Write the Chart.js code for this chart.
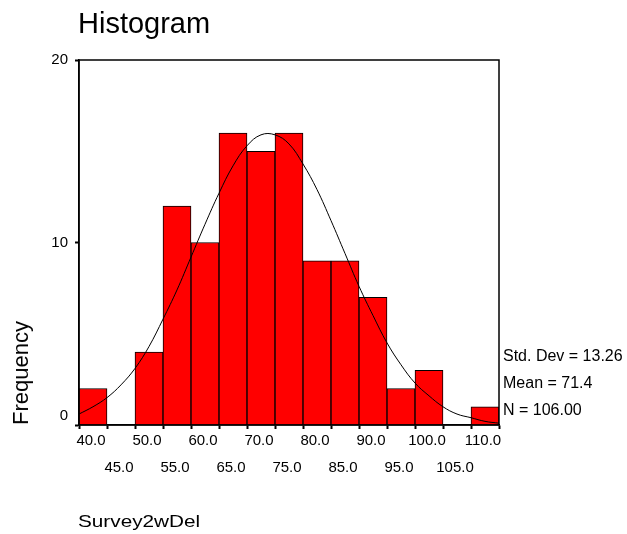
<!DOCTYPE html>
<html>
<head>
<meta charset="utf-8">
<script src="https://cdn.jsdelivr.net/npm/chart.js@4/dist/chart.umd.min.js"></script>
<style>
body { margin: 0; background: #fff; }
#wrap { position: relative; width: 627px; height: 534px; font-family: Arial, "Liberation Sans", sans-serif; color: #000; }
#c { position: absolute; left: 0; top: 0; }
.txt { position: absolute; white-space: nowrap; line-height: 1; }
#title { left: 78px; top: 9px; font-size: 29px; }
#ylab { left: 21px; top: 373px; font-size: 22px; transform: translate(-50%, -50%) rotate(-90deg); }
#xlab { left: 78px; top: 513px; font-size: 17px; transform: scaleX(1.22); transform-origin: left top; }
.stat { left: 503px; font-size: 16px; }
</style>
</head>
<body>
<div id="wrap">
<canvas id="c" width="627" height="534"></canvas>
<div class="txt" id="title">Histogram</div>
<div class="txt" id="ylab">Frequency</div>
<div class="txt" id="xlab">Survey2wDel</div>
<div class="txt stat" style="top:348px">Std. Dev = 13.26</div>
<div class="txt stat" style="top:375px">Mean = 71.4</div>
<div class="txt stat" style="top:402px">N = 106.00</div>
</div>
<script>
// bins (centres) and counts
const bins = ["40.0","45.0","50.0","55.0","60.0","65.0","70.0","75.0","80.0","85.0","90.0","95.0","100.0","105.0","110.0"];
const counts = [2,0,4,12,10,16,15,16,9,9,7,2,3,0,1];

// normal curve
const curveX = [37.5,40,42.5,45,47.5,50,52.5,55,57.5,60,62.5,65,67.5,70,72.5,75,77.5,80,82.5,85,87.5,90,92.5,95,97.5,100,102.5,105,107.5,110,112.5];
const curveY = [0.6,1.0,1.5,2.2,3.1,4.3,5.8,7.4,9.2,11.0,12.7,14.2,15.3,15.9,15.9,15.4,14.3,12.9,11.2,9.4,7.6,6.0,4.5,3.3,2.3,1.6,1.0,0.6,0.4,0.2,0.1];

const yTicks = [0,10,20];

const boxPlugin = {
  id: 'box',
  afterDraw(chart) {
    const a = chart.chartArea;
    const ctx = chart.ctx;
    ctx.save();
    ctx.strokeStyle = '#000';
    ctx.lineWidth = 1.5;
    ctx.strokeRect(a.left, a.top, a.right - a.left, a.bottom - a.top);
    ctx.restore();
  }
};

new Chart(document.getElementById('c'), {
  data: {
    labels: bins,
    datasets: [
      {
        type: 'line',
        data: curveX.map((x, i) => ({x: x, y: curveY[i]})),
        xAxisID: 'xl',
        borderColor: '#000',
        borderWidth: 1,
        pointRadius: 0,
        tension: 0.4,
        order: 0
      },
      {
        type: 'bar',
        data: counts,
        xAxisID: 'x',
        backgroundColor: '#ff0000',
        borderColor: '#000',
        borderWidth: 1,
        grouped: false,
        barPercentage: 1,
        categoryPercentage: 1,
        order: 1
      }
    ]
  },
  options: {
    responsive: false,
    animation: false,
    layout: { padding: { top: 60, right: 128, left: 0, bottom: 0 } },
    plugins: { legend: { display: false }, tooltip: { enabled: false } },
    scales: {
      x: {
        type: 'category',
        offset: true,
        afterFit(s) { s.height = 109; },
        grid: { drawOnChartArea: false, tickLength: 4, tickWidth: 2, color: '#000' },
        border: { color: '#000', width: 1.5 },
        ticks: {
          autoSkip: false, maxRotation: 0, padding: -2, labelOffset: -2,
          color: '#000',
          font: { family: 'Arial, "Liberation Sans"', size: 15, lineHeight: 1.8 },
          callback(v, i) { const l = bins[i]; return i % 2 === 0 ? l : ['', l]; }
        }
      },
      xl: { type: 'linear', display: false, min: 37.5, max: 112.5 },
      y: {
        min: 0, max: 20,
        afterFit(s) { s.width = 79; },
        afterBuildTicks(s) { s.ticks = yTicks.map(v => ({value: v})); },
        grid: { drawOnChartArea: false, tickLength: 4, tickWidth: 2, color: '#000' },
        border: { color: '#000', width: 1.5 },
        ticks: {
          padding: 7, color: '#000',
          font: { family: 'Arial, "Liberation Sans"', size: 15 },
          callback(v) { return v === 0 ? ['0', ''] : String(v); }
        }
      }
    }
  },
  plugins: [boxPlugin]
});
</script>
</body>
</html>
